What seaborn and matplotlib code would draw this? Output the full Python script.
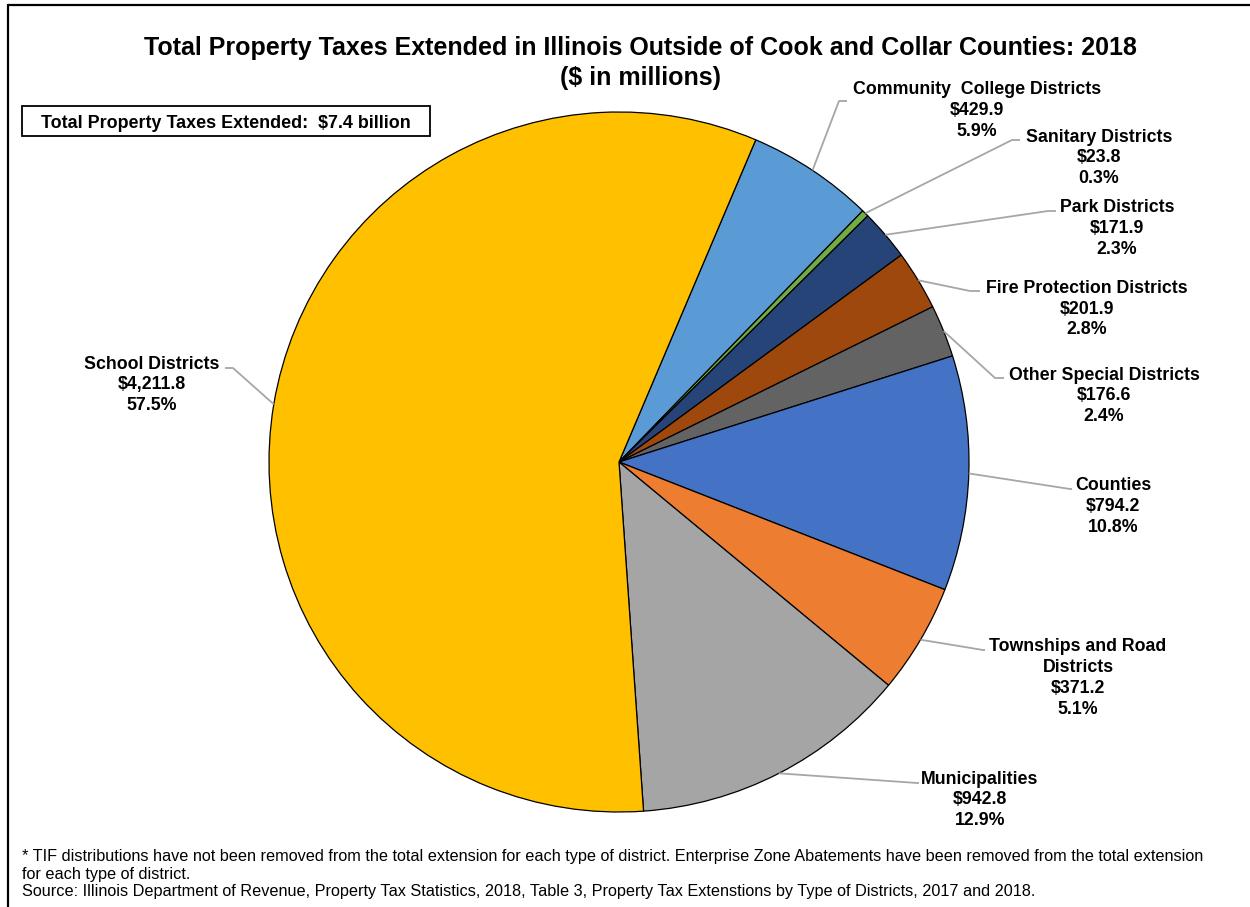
import numpy as np
import matplotlib
matplotlib.use("Agg")
import matplotlib.pyplot as plt
from matplotlib.patches import Rectangle
import seaborn as sns

# ---- data ----
categories = ["Community  College Districts", "Sanitary Districts", "Park Districts",
              "Fire Protection Districts", "Other Special Districts", "Counties",
              "Townships and Road\nDistricts", "Municipalities", "School Districts"]
values = [429.9, 23.8, 171.9, 201.9, 176.6, 794.2, 371.2, 942.8, 4211.8]
colors_hex = ["#5B9BD5", "#70AD47", "#264478", "#9E480E", "#636363",
              "#4472C4", "#ED7D31", "#A5A5A5", "#FFC000"]

title_lines = ["Total Property Taxes Extended in Illinois Outside of Cook and Collar Counties: 2018",
               "($ in millions)"]
box_text = "Total Property Taxes Extended:  $7.4 billion"
footnote_lines = ["* TIF distributions have not been removed from the total extension for each type of district. "
                  "Enterprise Zone Abatements have been removed from the total extension",
                  "for each type of district.",
                  "Source: Illinois Department of Revenue, Property Tax Statistics, 2018, Table 3, "
                  "Property Tax Extenstions by Type of Districts, 2017 and 2018."]

# ---- layout (pixel coords, y from top) ----
W, H = 1250, 907
center_px = (619, 462)
radius_px = 350
label_pos = [(977, 108.5), (1099, 156), (1117, 226.5), (1087, 307), (1104, 394),
             (1113, 504.5), (1078, 676), (980, 798), (152, 383)]
elbow_pos = [(839, 101), (1012, 140), (1048, 211), (970, 291), (995, 378),
             (1070, 489), (983, 650), (917, 783), (233, 368)]
end_pos = [(847, 101), (1020, 140), (1056, 211), (980, 291), (1004, 378),
           (1072, 489), (985, 650), (919, 783), (225, 368)]
label_pitch = 20.7

sns.set_theme(style="white")
plt.rcParams["font.family"] = ["Liberation Sans", "DejaVu Sans"]

palette = sns.color_palette(colors_hex)

fig = plt.figure(figsize=(W / 100, H / 100), dpi=100)
ax = fig.add_axes([0, 0, 1, 1])

def fy(y):
    return H - y

wedges, _ = ax.pie(values, colors=palette, startangle=67, counterclock=False,
                   center=(center_px[0], fy(center_px[1])), radius=radius_px,
                   wedgeprops=dict(edgecolor="black", linewidth=0.9), frame=True)
ax.set_xlim(0, W)
ax.set_ylim(0, H)
ax.set_aspect("equal")
ax.axis("off")

total = sum(values)
for w, cat, v, lp, ep, enp in zip(wedges, categories, values, label_pos, elbow_pos, end_pos):
    mid = np.deg2rad((w.theta1 + w.theta2) / 2)
    sx = center_px[0] + radius_px * np.cos(mid)
    sy = fy(center_px[1]) + radius_px * np.sin(mid)
    ax.plot([sx, ep[0], enp[0]], [sy, fy(ep[1]), fy(enp[1])], color="#A6A6A6", lw=1.3,
            solid_capstyle="butt", zorder=1)
    lines = cat.split("\n") + [f"${v:,.1f}", f"{v / total * 100:.1f}%"]
    n = len(lines)
    for i, line in enumerate(lines):
        yy = lp[1] + (i - (n - 1) / 2) * label_pitch
        ax.text(lp[0], fy(yy), line, ha="center", va="center_baseline", fontsize=12.8,
                fontweight="bold", color="black")

# title
for line, yy, fs in zip(title_lines, [45, 75], [18, 18]):
    ax.text(640, fy(yy), line, ha="center", va="center_baseline", fontsize=fs,
            fontweight="bold", color="black")

# total box
ax.add_patch(Rectangle((22, fy(136)), 408, 30, facecolor="white", edgecolor="black",
                       linewidth=1.3, zorder=3))
ax.text(226, fy(121), box_text, ha="center", va="center_baseline", fontsize=12.9,
        fontweight="bold", color="black", zorder=4)

# footnote
for line, yy in zip(footnote_lines, [855, 872.5, 890]):
    ax.text(22, fy(yy), line, ha="left", va="center_baseline", fontsize=11.7, color="black")

# frame lines (left and top)
ax.plot([8, 8], [fy(5), 0], color="black", lw=1.6, clip_on=False)
ax.plot([8, W], [fy(5), fy(5)], color="black", lw=1.6, clip_on=False)

fig.savefig("out.png", dpi=100, facecolor="white")
